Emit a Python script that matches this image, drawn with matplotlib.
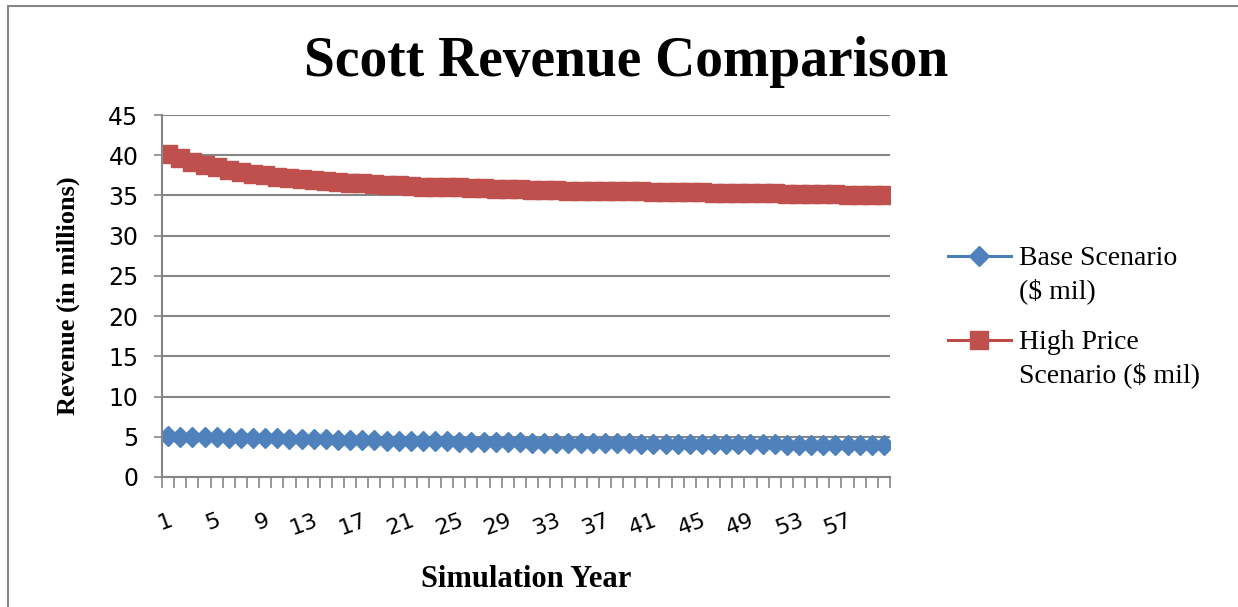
import matplotlib.pyplot as plt
from matplotlib.lines import Line2D
from matplotlib.patches import Rectangle

# revenue per simulation year, $ millions
years = list(range(1, 61))
base_rev = [5.05, 5.02, 4.99, 4.96, 4.93, 4.90, 4.87, 4.85, 4.82, 4.80,
            4.77, 4.74, 4.71, 4.68, 4.65, 4.62, 4.59, 4.56, 4.53, 4.50,
            4.48, 4.46, 4.44, 4.42, 4.40, 4.38, 4.36, 4.34, 4.32, 4.30,
            4.28, 4.27, 4.25, 4.24, 4.22, 4.21, 4.19, 4.18, 4.17, 4.15,
            4.14, 4.13, 4.12, 4.11, 4.10, 4.09, 4.08, 4.07, 4.06, 4.05,
            4.04, 4.03, 4.02, 4.01, 4.00, 3.99, 3.98, 3.97, 3.96, 3.95]
high_rev = [40.1, 39.6, 39.2, 38.8, 38.5, 38.2, 37.9, 37.7, 37.5, 37.3,
            37.2, 37.0, 36.9, 36.8, 36.7, 36.6, 36.5, 36.4, 36.3, 36.3,
            36.2, 36.1, 36.1, 36.0, 36.0, 35.9, 35.9, 35.8, 35.8, 35.8,
            35.7, 35.7, 35.7, 35.6, 35.6, 35.6, 35.5, 35.5, 35.5, 35.5,
            35.4, 35.4, 35.4, 35.4, 35.4, 35.3, 35.3, 35.3, 35.3, 35.3,
            35.3, 35.2, 35.2, 35.2, 35.2, 35.2, 35.1, 35.1, 35.1, 35.1]
base_label = ["Base Scenario", "(\\$ mil)"]
high_label = ["High Price", "Scenario (\\$ mil)"]
yticks = [0, 5, 10, 15, 20, 25, 30, 35, 40, 45]

grid_col = "#868686"
serif = "Liberation Serif"

fig = plt.figure(figsize=(12.38, 6.07), dpi=100)
ax = fig.add_axes([0.1309, 0.2142, 0.588, 0.5963])

l1, = ax.plot(years, base_rev, color="#4A7EBB", lw=2.2, marker="D", ms=10,
              mfc="#4F81BD", mec="#4F81BD")
l2, = ax.plot(years, high_rev, color="#BE4B48", lw=2.2, marker="s", ms=13,
              mfc="#C0504D", mec="#C0504D")

ax.set_xlim(0.5, 60.5)
ax.set_ylim(0, 45)
ax.set_yticks(yticks)
ax.yaxis.grid(True, color=grid_col, lw=1.5)
ax.set_axisbelow(True)
for s in ["top", "right"]:
    ax.spines[s].set_visible(False)
for s in ["left", "bottom"]:
    ax.spines[s].set_color(grid_col)
    ax.spines[s].set_linewidth(1.5)

ax.tick_params(axis="y", length=6, width=1.2, color=grid_col, labelsize=17, pad=11)
for t in ax.get_yticklabels():
    t.set_family("DejaVu Sans")

# tick marks between categories, labels every 4th year
ax.set_xticks([y + 0.5 for y in [0] + years], minor=True)
ax.set_xticks(years[::4])
ax.set_xticklabels([str(y) for y in years[::4]], rotation=20, ha="right",
                   rotation_mode="anchor", family="DejaVu Sans", fontsize=16)
ax.tick_params(axis="x", which="major", length=0, pad=24)
ax.tick_params(axis="x", which="minor", length=8, width=1.2, color=grid_col)

ax.set_ylabel("Revenue (in millions)", family=serif, fontweight="bold",
              fontsize=19, labelpad=20)
ax.set_xlabel("Simulation Year", family=serif, fontweight="bold",
              fontsize=22, labelpad=19)
fig.text(0.506, 0.898, "Scott Revenue Comparison", family=serif,
         fontweight="bold", fontsize=40, ha="center", va="center")

# one legend block per series, key on the first line of the label
blank = Line2D([], [], linestyle="none")
leg_kw = dict(loc="upper left", frameon=False,
              prop={"family": serif, "size": 20}, handlelength=2.25,
              handletextpad=0.3, labelspacing=0.25, borderpad=0,
              borderaxespad=0)
fig.legend([l1, blank], base_label, bbox_to_anchor=(948 / 1238, 1 - 246 / 607), **leg_kw)
fig.legend([l2, blank], high_label, bbox_to_anchor=(948 / 1238, 1 - 330 / 607), **leg_kw)

# chart area border
fig.patches.append(Rectangle((8 / 1238, -0.05), 1.1, 1.05 - 6 / 607,
                             transform=fig.transFigure, fill=False,
                             ec=grid_col, lw=1.5, clip_on=False))

fig.savefig("out.png", dpi=100)
